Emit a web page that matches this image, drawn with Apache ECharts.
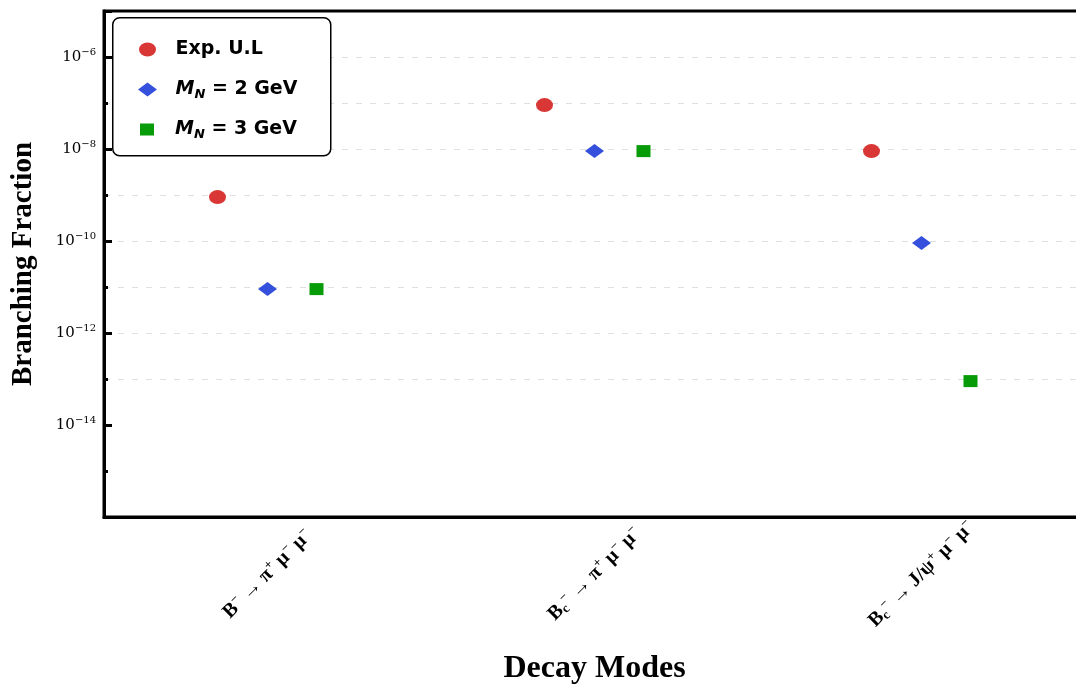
<!DOCTYPE html>
<html>
<head>
<meta charset="utf-8">
<script src="https://cdn.jsdelivr.net/npm/echarts@6/dist/echarts.min.js"></script>
<style>html,body{margin:0;padding:0;background:#fff;overflow:hidden}#c{width:1076px;height:685px}</style>
</head>
<body>
<div id="c"></div>
<script>
// ---- data ----
const categories = ['B- -> pi+ mu- mu-', 'Bc- -> pi+ mu- mu-', 'Bc- -> J/psi+ mu- mu-'];
const categoryLabels = [
  '{b|B}{sp|−}{b| → π}{sp|+}{b| μ}{sp|−}{b| μ}{sp|−}',
  '{b|B}{sb|c}{sp|−}{b| → π}{sp|+}{b| μ}{sp|−}{b| μ}{sp|−}',
  '{b|B}{sb|c}{sp|−}{b| → J/ψ}{sp|+}{b| μ}{sp|−}{b| μ}{sp|−}'
];
const seriesNames = ['Exp. U.L', 'M_N = 2 GeV', 'M_N = 3 GeV'];
const expUL = [9e-10, 9e-8, 9e-9];
const mn2 = [9e-12, 9e-9, 9e-11];
const mn3 = [9e-12, 9e-9, 9e-14];
const gridDecadeExps = [-13, -12, -11, -10, -9, -8, -7, -6];
const yMinExp = -16, yMaxExp = -5;

const ellipsePath = 'path://M0,7 A8.5,7 0 1,0 17,7 A8.5,7 0 1,0 0,7 Z';
const diamondPath = 'path://M9.5,0 L19,7 L9.5,14 L0,7 Z';
const squarePath = 'path://M0,0 L14,0 L14,12 L0,12 Z';
const colors = ['#d93636', '#3550dc', '#079b07'];

const chart = echarts.init(document.getElementById('c'), null, {width: 1076, height: 685});

const legendRich = {
  b: {fontFamily: 'DejaVu Sans', fontWeight: 'bold', fontSize: 19, color: '#000'},
  mi: {fontFamily: 'DejaVu Sans', fontWeight: 'bold', fontStyle: 'italic', fontSize: 19, color: '#000'},
  sub: {fontFamily: 'DejaVu Sans', fontWeight: 'bold', fontStyle: 'italic', fontSize: 13, color: '#000', padding: [10, 0, 0, 0]}
};
function legendFmt(name) {
  if (name.indexOf('M_N') === 0) {
    return '{mi|M}{sub|N}{b|' + name.slice(3) + '}';
  }
  return '{b|' + name + '}';
}
function mkLegend(name, icon, h, left, top) {
  return {
    data: [name], icon: icon, itemWidth: 46, itemHeight: h, left: left, top: top,
    padding: 0, orient: 'vertical', z: 200, selectedMode: false,
    formatter: legendFmt, textStyle: {rich: legendRich}
  };
}

function yLabelFmt(v) {
  const e = Math.round(Math.log10(v));
  if (e > -6 || e < -14 || e % 2 !== 0) return '';
  return '{b|10}{s|−' + (-e) + '}';
}

// split line colours per decade tick (only decades listed in gridDecadeExps get a line)
const splitColors = [];
for (let e = yMinExp; e <= yMaxExp; e++) {
  splitColors.push(gridDecadeExps.indexOf(e) >= 0 ? '#e0e0e0' : 'rgba(0,0,0,0)');
}

const option = {
  animation: false,
  grid: {left: 104, top: 11, width: 981, height: 506, containLabel: false, outerBoundsMode: 'none',
         show: true, borderColor: '#000', borderWidth: 3, backgroundColor: 'transparent'},
  graphic: [{
    type: 'rect', left: 112, top: 17, z: 100,
    shape: {width: 218, height: 138, r: 7},
    style: {fill: '#fff', stroke: '#000', lineWidth: 1.5}
  }],
  legend: [
    mkLegend(seriesNames[0], ellipsePath, 14, 139, 40),
    mkLegend(seriesNames[1], diamondPath, 14, 138, 80),
    mkLegend(seriesNames[2], squarePath, 12, 140, 120)
  ],
  xAxis: {
    type: 'category', data: categories,
    axisLine: {lineStyle: {color: '#000', width: 3}},
    axisTick: {inside: true, length: 5, alignWithLabel: true, lineStyle: {color: '#000', width: 3}},
    axisLabel: {
      rotate: 45, align: 'center', verticalAlign: 'middle', margin: 57,
      formatter: function (v, i) { return categoryLabels[i]; },
      rich: {
        b: {fontFamily: 'Liberation Serif', fontWeight: 'bold', fontSize: 20, color: '#000'},
        sp: {fontFamily: 'Liberation Serif', fontWeight: 'bold', fontSize: 13, color: '#000', padding: [0, 0, 11, 0]},
        sb: {fontFamily: 'Liberation Serif', fontWeight: 'bold', fontSize: 13, color: '#000', padding: [9, 0, 0, 0]}
      }
    },
    name: 'Decay Modes', nameLocation: 'middle', nameGap: 136,
    nameTextStyle: {fontFamily: 'Liberation Serif', fontWeight: 'bold', fontSize: 32, color: '#000'},
    splitLine: {show: false}
  },
  yAxis: [{
    type: 'log', logBase: 10, min: Math.pow(10, yMinExp), max: Math.pow(10, yMaxExp), interval: 2,
    axisLine: {show: true, lineStyle: {color: '#000', width: 3}},
    axisTick: {show: true, inside: true, length: 8, lineStyle: {color: '#000', width: 3}},
    axisLabel: {
      margin: 8, formatter: yLabelFmt,
      rich: {
        b: {fontFamily: 'DejaVu Serif', fontSize: 15, color: '#000'},
        s: {fontFamily: 'DejaVu Serif', fontSize: 10, color: '#000', padding: [0, 0, 9, 0]}
      }
    },
    splitLine: {show: false},
    name: 'Branching Fraction', nameLocation: 'middle', nameGap: 66, nameRotate: 90,
    nameTextStyle: {fontFamily: 'Liberation Serif', fontWeight: 'bold', fontSize: 29, color: '#000'}
  }, {
    type: 'log', logBase: 10, min: Math.pow(10, yMinExp), max: Math.pow(10, yMaxExp), interval: 1, position: 'left',
    axisLine: {show: false},
    axisTick: {show: true, inside: true, length: 4, lineStyle: {color: '#000', width: 3}},
    axisLabel: {show: false},
    splitLine: {show: true, lineStyle: {color: splitColors, type: [6, 8], width: 1}}
  }],
  series: [{
    name: seriesNames[0], type: 'scatter', data: expUL,
    symbol: ellipsePath, symbolSize: [17, 14], symbolOffset: [-50, 0], symbolKeepAspect: false,
    itemStyle: {color: colors[0], opacity: 1}, z: 5
  }, {
    name: seriesNames[1], type: 'scatter', data: mn2,
    symbol: diamondPath, symbolSize: [19, 14], symbolOffset: [0, 0], symbolKeepAspect: false,
    itemStyle: {color: colors[1], opacity: 1}, z: 5
  }, {
    name: seriesNames[2], type: 'scatter', data: mn3,
    symbol: squarePath, symbolSize: [14, 12], symbolOffset: [49, 0], symbolKeepAspect: false,
    itemStyle: {color: colors[2], opacity: 1}, z: 5
  }]
};
chart.setOption(option);
</script>
</body>
</html>
